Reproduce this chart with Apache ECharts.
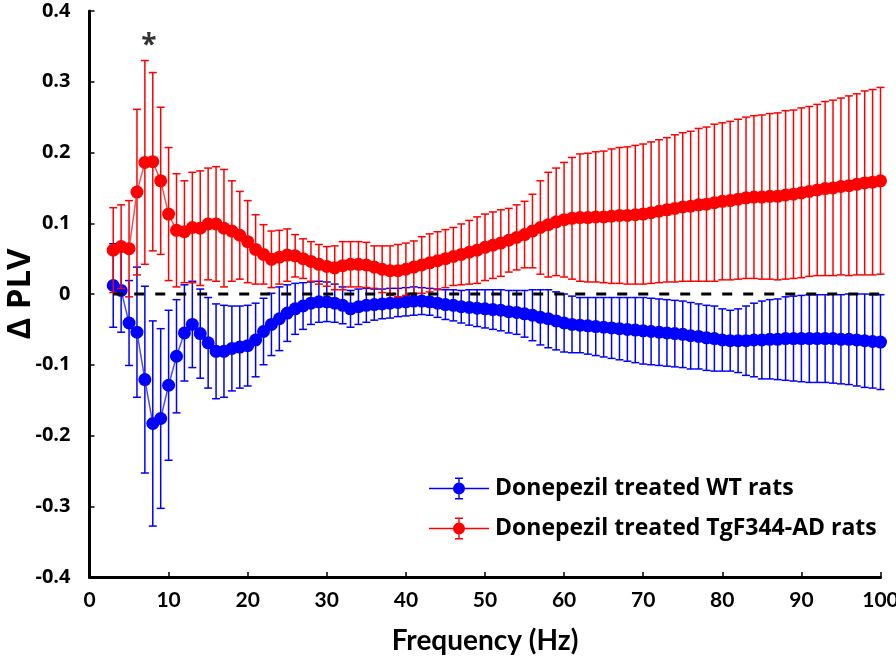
<!DOCTYPE html>
<html>
<head>
<meta charset="utf-8">
<script src="https://cdn.jsdelivr.net/npm/echarts@6/dist/echarts.min.js"></script>
<style>html,body{margin:0;padding:0;background:#fff}#chart{width:896px;height:667px}</style>
</head>
<body>
<div id="chart"></div>
<script>
const freq = [3,4,5,6,7,8,9,10,11,12,13,14,15,16,17,18,19,20,21,22,23,24,25,26,27,28,29,30,31,32,33,34,35,36,37,38,39,40,41,42,43,44,45,46,47,48,49,50,51,52,53,54,55,56,57,58,59,60,61,62,63,64,65,66,67,68,69,70,71,72,73,74,75,76,77,78,79,80,81,82,83,84,85,86,87,88,89,90,91,92,93,94,95,96,97,98,99,100];

const wtMean = [0.012,0.005,-0.041,-0.054,-0.121,-0.183,-0.176,-0.129,-0.088,-0.055,-0.043,-0.056,-0.069,-0.081,-0.081,-0.077,-0.075,-0.073,-0.065,-0.053,-0.043,-0.035,-0.027,-0.021,-0.017,-0.013,-0.011,-0.011,-0.013,-0.016,-0.021,-0.018,-0.016,-0.015,-0.014,-0.013,-0.012,-0.011,-0.010,-0.010,-0.011,-0.013,-0.015,-0.016,-0.018,-0.019,-0.020,-0.021,-0.022,-0.023,-0.025,-0.026,-0.028,-0.030,-0.033,-0.035,-0.038,-0.041,-0.043,-0.044,-0.045,-0.046,-0.047,-0.048,-0.049,-0.050,-0.051,-0.052,-0.053,-0.054,-0.055,-0.056,-0.057,-0.059,-0.060,-0.062,-0.063,-0.065,-0.066,-0.066,-0.066,-0.065,-0.065,-0.064,-0.064,-0.063,-0.063,-0.063,-0.063,-0.063,-0.063,-0.063,-0.064,-0.064,-0.065,-0.066,-0.067,-0.068];

const wtSem = [0.059,0.059,0.060,0.092,0.132,0.145,0.127,0.106,0.080,0.068,0.061,0.063,0.064,0.067,0.065,0.060,0.058,0.057,0.052,0.047,0.044,0.045,0.040,0.036,0.033,0.030,0.029,0.028,0.027,0.026,0.026,0.025,0.024,0.022,0.021,0.021,0.020,0.020,0.020,0.019,0.019,0.020,0.021,0.022,0.023,0.025,0.026,0.027,0.028,0.029,0.030,0.031,0.033,0.036,0.039,0.041,0.041,0.041,0.040,0.039,0.040,0.041,0.042,0.043,0.044,0.045,0.046,0.047,0.047,0.047,0.047,0.047,0.047,0.047,0.046,0.046,0.046,0.044,0.043,0.045,0.049,0.052,0.055,0.056,0.057,0.059,0.060,0.061,0.062,0.062,0.062,0.063,0.063,0.064,0.065,0.066,0.066,0.067];

const adMean = [0.062,0.067,0.064,0.144,0.186,0.187,0.160,0.113,0.090,0.088,0.094,0.093,0.099,0.099,0.093,0.089,0.083,0.074,0.063,0.056,0.049,0.052,0.055,0.054,0.050,0.046,0.042,0.039,0.037,0.040,0.042,0.042,0.041,0.038,0.035,0.033,0.033,0.035,0.038,0.041,0.044,0.047,0.050,0.053,0.056,0.059,0.062,0.066,0.069,0.072,0.076,0.080,0.084,0.089,0.094,0.098,0.102,0.105,0.107,0.108,0.108,0.109,0.109,0.110,0.111,0.111,0.112,0.113,0.115,0.117,0.119,0.121,0.123,0.124,0.126,0.127,0.129,0.131,0.132,0.134,0.136,0.137,0.137,0.138,0.138,0.140,0.141,0.143,0.145,0.147,0.149,0.150,0.152,0.153,0.155,0.157,0.158,0.160];

const adSem = [0.060,0.059,0.068,0.117,0.144,0.126,0.104,0.094,0.080,0.072,0.078,0.081,0.079,0.081,0.083,0.071,0.062,0.058,0.049,0.042,0.040,0.038,0.037,0.030,0.028,0.028,0.028,0.028,0.031,0.034,0.032,0.032,0.032,0.030,0.033,0.035,0.037,0.037,0.037,0.040,0.041,0.041,0.041,0.041,0.043,0.045,0.047,0.047,0.047,0.047,0.045,0.046,0.047,0.052,0.066,0.074,0.076,0.081,0.086,0.090,0.091,0.092,0.093,0.095,0.096,0.097,0.098,0.099,0.100,0.101,0.102,0.104,0.105,0.106,0.108,0.109,0.111,0.111,0.112,0.113,0.114,0.115,0.116,0.117,0.118,0.119,0.119,0.120,0.120,0.121,0.123,0.124,0.125,0.127,0.128,0.130,0.131,0.132];

const xTicks = [0,10,20,30,40,50,60,70,80,90,100];
const yTicks = [-0.4,-0.3,-0.2,-0.1,0,0.1,0.2,0.3,0.4];
const zeroLine = [[3,0],[100,0]];
const starMark = [[7.5,0.35]];
const seriesNames = ['Donepezil treated WT rats','Donepezil treated TgF344-AD rats'];

const BLUE = '#0000ff', RED = '#ff0000';
const NARROW = 'Lato';
const WIDE = '"Open Sans", Lato';

function pairs(m){ return freq.map((f,i)=>[f,m[i]]); }
function errs(m,s){ return freq.map((f,i)=>[f,m[i]-s[i],m[i]+s[i]]); }

function errRender(color){
  return function(params, api){
    const x = api.value(0), lo = api.value(1), hi = api.value(2);
    const a = api.coord([x, lo]), b = api.coord([x, hi]);
    const hw = 4, st = {stroke: color, lineWidth: 1.5};
    return {type:'group', children:[
      {type:'line', shape:{x1:a[0],y1:a[1],x2:b[0],y2:b[1]}, style:st},
      {type:'line', shape:{x1:b[0]-hw,y1:b[1],x2:b[0]+hw,y2:b[1]}, style:st},
      {type:'line', shape:{x1:a[0]-hw,y1:a[1],x2:a[0]+hw,y2:a[1]}, style:st}
    ]};
  };
}

const legendIcon = 'path://M0,11.2h60v1.6h-60z M24,12a6,6 0 1,1 12,0a6,6 0 1,1 -12,0z M29.3,2h1.4v20h-1.4z M26,1h8v1.5h-8z M26,21.5h8v1.5h-8z';

const chart = echarts.init(document.getElementById('chart'), null, {renderer:'canvas'});
chart.setOption({
  animation: false,
  backgroundColor: '#fff',
  grid: {left: 89.5, right: 15.5, top: 11, bottom: 90, containLabel: false, outerBoundsMode: 'none'},
  xAxis: {
    type: 'value', min: xTicks[0], max: xTicks[xTicks.length-1], interval: 10,
    name: 'Frequency (Hz)', nameLocation: 'middle', nameGap: 50, nameMoveOverlap: false,
    nameTextStyle: {fontFamily: NARROW, fontWeight: 'bold', fontSize: 28, color: '#000'},
    axisLine: {onZero: false, lineStyle: {color: '#000', width: 3}},
    axisTick: {inside: true, length: 5, lineStyle: {color: '#000', width: 1.5}},
    axisLabel: {fontFamily: NARROW, fontWeight: 'bold', fontSize: 21, color: '#000', margin: 13},
    splitLine: {show: false}
  },
  yAxis: {
    type: 'value', min: yTicks[0], max: yTicks[yTicks.length-1], interval: 0.1,
    name: 'Δ PLV', nameLocation: 'middle', nameGap: 52, nameRotate: 90, nameMoveOverlap: false,
    nameTextStyle: {fontFamily: WIDE, fontWeight: 'bold', fontSize: 33, color: '#000'},
    axisLine: {onZero: false, lineStyle: {color: '#000', width: 3}},
    axisTick: {inside: true, length: 5, lineStyle: {color: '#000', width: 1.5}},
    axisLabel: {fontFamily: WIDE, fontWeight: 'bold', fontSize: 20, color: '#000', margin: 19,
      formatter: v => String(Math.round(v*10)/10)},
    splitLine: {show: false}
  },
  legend: {
    orient: 'vertical', left: 424, top: 472, itemGap: 17,
    itemWidth: 60, itemHeight: 22,
    data: [
      {name: seriesNames[0], icon: legendIcon, itemStyle: {color: BLUE, borderWidth: 0}},
      {name: seriesNames[1], icon: legendIcon, itemStyle: {color: RED, borderWidth: 0}}
    ],
    textStyle: {fontFamily: WIDE, fontWeight: 'bold', fontSize: 23, color: '#000', padding: [0,0,0,1]}
  },
  series: [
    {type: 'custom', name: 'wtErr', data: errs(wtMean, wtSem), encode: {x: 0, y: [1,2]},
     renderItem: errRender(BLUE), silent: true, z: 2},
    {type: 'line', name: seriesNames[0], data: pairs(wtMean), color: BLUE,
     symbol: 'circle', symbolSize: 13, showAllSymbol: true,
     lineStyle: {color: '#4d4dff', width: 1.5}, itemStyle: {color: BLUE, borderWidth: 0}, z: 3},
    {type: 'custom', name: 'adErr', data: errs(adMean, adSem), encode: {x: 0, y: [1,2]},
     renderItem: errRender(RED), silent: true, z: 4},
    {type: 'line', name: seriesNames[1], data: pairs(adMean), color: RED,
     symbol: 'circle', symbolSize: 13, showAllSymbol: true,
     lineStyle: {color: '#ff4d4d', width: 1.5}, itemStyle: {color: RED, borderWidth: 0}, z: 5},
    {type: 'line', name: 'zero', data: zeroLine, symbol: 'none', silent: true,
     lineStyle: {color: '#000', width: 3, type: [10, 11]}, z: 6},
    {type: 'scatter', name: 'star', data: starMark, symbolSize: 1, silent: true,
     itemStyle: {color: 'rgba(0,0,0,0)'},
     label: {show: true, position: 'inside', formatter: '*', fontFamily: WIDE, fontWeight: 'bold', fontSize: 28, color: '#000'}, z: 7}
  ]
});
</script>
</body>
</html>
